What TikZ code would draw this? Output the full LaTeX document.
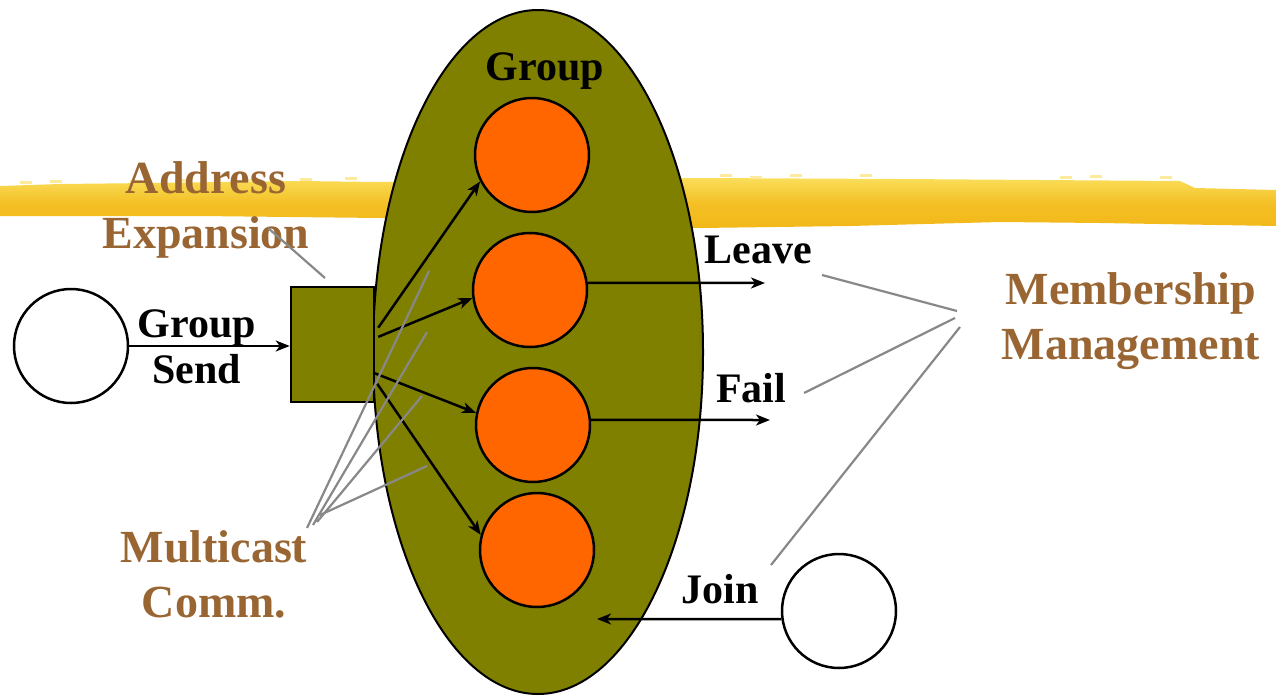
\documentclass[tikz,border=0pt]{standalone}
\usepackage{fontspec}
\setmainfont{Liberation Serif}
\usetikzlibrary{shapes.geometric,arrows.meta,calc}
\definecolor{olivebg}{RGB}{128,128,0}
\definecolor{orangec}{RGB}{255,102,0}
\definecolor{brownt}{RGB}{153,102,51}
\definecolor{grayl}{RGB}{136,136,136}
\definecolor{yelA}{RGB}{250,222,90}
\definecolor{yelB}{RGB}{242,184,24}
\tikzset{
  blk/.style={font=\fontsize{42}{46}\selectfont\bfseries, text=black, inner sep=0pt},
  brn/.style={font=\fontsize{46}{55}\selectfont\bfseries, text=brownt, inner sep=0pt, align=center},
  member/.style={circle, draw=black, line width=2.5pt, fill=orangec, minimum size=114pt, inner sep=0pt},
  endpt/.style={circle, draw=black, line width=2.5pt, fill=white, minimum size=114pt, inner sep=0pt},
  arr/.style={line width=2.5pt, -{Stealth[length=14pt,width=11pt,inset=4pt]}},
  pointer/.style={line width=2.2pt, draw=grayl},
}
\begin{document}
\begin{tikzpicture}[x=1pt,y=-1pt]
\useasboundingbox (0,0) rectangle (1276,699);
% yellow brush stroke
\shade[top color=yelA, bottom color=yelB, middle color=yelB!80!yelA]
  (0,186) -- (60,184) -- (150,183) -- (300,181) -- (380,182) -- (700,178) -- (900,179) -- (1180,181)
  -- (1195,188) -- (1276,190) -- (1276,226) -- (1100,223) -- (1000,222) -- (850,226) -- (700,228)
  -- (500,222) -- (380,218) -- (200,216) -- (0,216) -- cycle;
\foreach \xa/\ya in {20/181,50/180,130/180,175/179,245/179,300/178,345/177,720/174,750/176,790/174,860/174,1060/176,1090/175,1160/176}
  \fill[yelA!60!white] (\xa,\ya) rectangle ++(12,2.5);
% group ellipse
\node[ellipse, draw=black, line width=2pt, fill=olivebg, minimum width=330pt, minimum height=684pt, inner sep=0pt] (grp) at (538,352) {};
\node[blk, anchor=base] (grplabel) at (545,80) {Group};
% members
\node[member] (c1) at (532,155) {};
\node[member] (c2) at (530,290) {};
\node[member] (c3) at (533,425) {};
\node[member] (c4) at (537,550) {};
% expansion box
\node[draw=black, line width=2.5pt, fill=olivebg, minimum width=83pt, minimum height=115pt, inner sep=0pt] (box) at (332.5,344.5) {};
% sender and joiner
\node[endpt] (snd) at (71,346) {};
\node[endpt] (jn) at (839,611) {};
% labels (base anchor = baseline of last line)
\node[blk, align=center, anchor=base] (gs) at (197,383) {Group\\Send};
\node[blk, anchor=base] (lv) at (758,263) {Leave};
\node[blk, anchor=base] (fl) at (751,402) {Fail};
\node[blk, anchor=base] (jl) at (720,603) {Join};
\node[brn, anchor=base] (addr) at (206,248) {Address\\Expansion};
\node[brn, anchor=base] (mc) at (214,617) {Multicast\\Comm.};
\node[brn, anchor=base] (mm) at (1131,359) {Membership\\Management};
% arrows
\draw[arr] (snd.east) -- (snd.east -| box.west);
\draw[arr] ($(box.north east)!0.357!(box.south east)+(3,0)$) -- (c1.207);
\draw[arr] ($(box.north east)!0.435!(box.south east)+(3,0)$) -- (c2.188);
\draw[arr] ($(box.north east)!0.74!(box.south east)+(-2,0)$) -- (c3.168);
\draw[arr] ($(box.north east)!0.835!(box.south east)+(2,0)$) -- (c4.165);
\coordinate (lvend) at (765,283);
\coordinate (flend) at (770,420);
\coordinate (jnend) at (597,619);
\draw[arr] (c2.7) -- (lvend);
\draw[arr] (c3.5) -- (flend);
\draw[arr] (jn.188) -- (jnend);
% gray pointers
\coordinate (ae1) at (268,228);
\coordinate (ae2) at (325,278);
\draw[pointer] (ae1) -- (ae2);
\coordinate (m1) at (429,271);
\coordinate (m2) at (427,332);
\coordinate (m3) at (422,396);
\coordinate (m4) at (427,466);
\coordinate (ma) at (307,528);
\coordinate (mb) at (313,525);
\coordinate (mcc) at (317,522);
\coordinate (md) at (320,515);
\draw[pointer] (m1) -- (ma);
\draw[pointer] (m2) -- (mb);
\draw[pointer] (m3) -- (mcc);
\draw[pointer] (m4) -- (md);
\coordinate (lv1) at (822,275);
\coordinate (lv2) at (957,311);
\coordinate (fl1) at (804,393);
\coordinate (fl2) at (955,318);
\coordinate (jn1) at (771,565);
\coordinate (jn2) at (960,327);
\draw[pointer] (lv1) -- (lv2);
\draw[pointer] (fl1) -- (fl2);
\draw[pointer] (jn1) -- (jn2);
\end{tikzpicture}
\end{document}
